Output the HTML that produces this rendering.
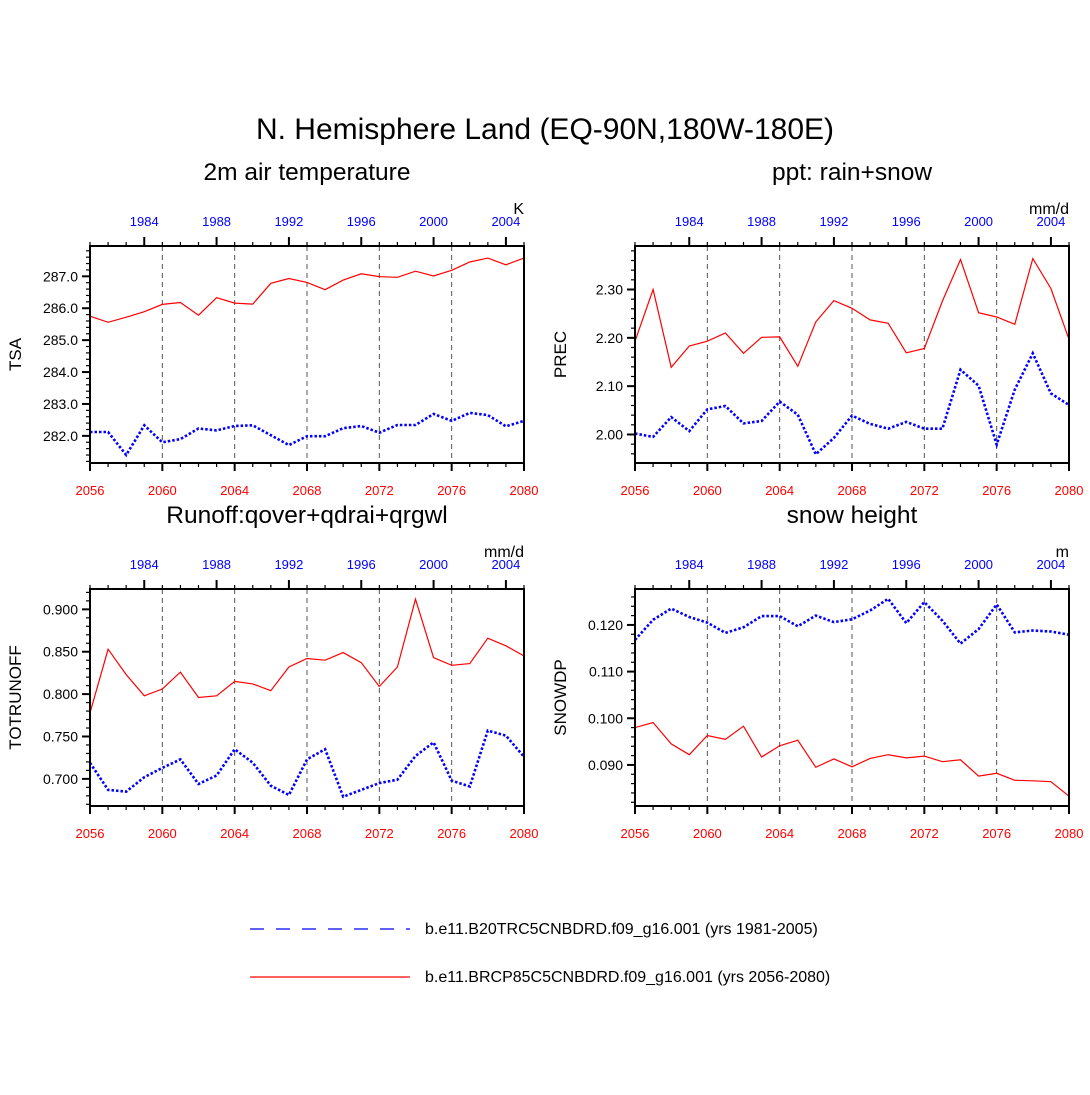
<!DOCTYPE html>
<html><head><meta charset="utf-8"><style>
body{margin:0;background:#fff}
svg text{font-family:"Liberation Sans",sans-serif}
</style></head><body>
<svg id="c" width="1090" height="1090" viewBox="0 0 1090 1090" xmlns="http://www.w3.org/2000/svg">
<rect width="1090" height="1090" fill="#fff"/>
<text x="545" y="139" font-size="30" text-anchor="middle">N. Hemisphere Land (EQ-90N,180W-180E)</text>
<g>
<line x1="250" y1="929" x2="410" y2="929" stroke="#00f" stroke-width="1.2" stroke-dasharray="14,12"/>
<text x="425" y="934" font-size="16">b.e11.B20TRC5CNBDRD.f09_g16.001 (yrs 1981-2005)</text>
<line x1="250" y1="977" x2="410" y2="977" stroke="#f00" stroke-width="1.2"/>
<text x="425" y="982" font-size="16">b.e11.BRCP85C5CNBDRD.f09_g16.001 (yrs 2056-2080)</text>
</g>
</svg>
<script>
const years = [2056,2057,2058,2059,2060,2061,2062,2063,2064,2065,2066,2067,2068,2069,2070,2071,2072,2073,2074,2075,2076,2077,2078,2079,2080];
const topLabels = ["1984","1988","1992","1996","2000","2004"];
const bottomLabels = ["2056","2060","2064","2068","2072","2076","2080"];
const tsaRcp = [285.75,285.56,285.72,285.89,286.12,286.18,285.78,286.33,286.16,286.13,286.78,286.93,286.81,286.58,286.88,287.08,286.99,286.97,287.16,287.01,287.19,287.45,287.57,287.36,287.57];
const tsaHist = [282.12,282.12,281.40,282.33,281.80,281.90,282.23,282.17,282.31,282.33,282.02,281.71,281.99,281.99,282.24,282.31,282.10,282.34,282.34,282.69,282.47,282.72,282.65,282.30,282.47];
const tsaTicks = ["282.0","283.0","284.0","285.0","286.0","287.0"];
const precRcp = [2.193,2.300,2.139,2.183,2.193,2.210,2.168,2.201,2.202,2.141,2.233,2.277,2.261,2.237,2.230,2.169,2.178,2.276,2.362,2.252,2.243,2.228,2.364,2.302,2.197];
const precHist = [2.002,1.995,2.036,2.007,2.052,2.059,2.023,2.028,2.068,2.041,1.959,1.993,2.039,2.022,2.012,2.026,2.012,2.012,2.134,2.101,1.979,2.093,2.168,2.085,2.061];
const precTicks = ["2.00","2.10","2.20","2.30"];
const runRcp = [0.778,0.853,0.823,0.798,0.806,0.826,0.796,0.798,0.815,0.812,0.804,0.832,0.842,0.840,0.849,0.837,0.809,0.832,0.912,0.843,0.834,0.836,0.866,0.857,0.845];
const runHist = [0.719,0.687,0.685,0.702,0.713,0.723,0.694,0.704,0.735,0.719,0.692,0.681,0.723,0.735,0.679,0.687,0.695,0.699,0.727,0.743,0.698,0.691,0.757,0.751,0.726];
const runTicks = ["0.700","0.750","0.800","0.850","0.900"];
const snowHist = [0.1168,0.1211,0.1235,0.1217,0.1205,0.1183,0.1195,0.1219,0.1219,0.1197,0.1220,0.1206,0.1212,0.1231,0.1256,0.1204,0.1249,0.1209,0.1160,0.1191,0.1244,0.1184,0.1188,0.1186,0.1179];
const snowRcp = [0.0980,0.0991,0.0945,0.0922,0.0963,0.0955,0.0983,0.0917,0.0941,0.0953,0.0895,0.0913,0.0896,0.0914,0.0922,0.0915,0.0919,0.0907,0.0911,0.0876,0.0882,0.0867,0.0866,0.0864,0.0833];
const snowTicks = ["0.090","0.100","0.110","0.120"];

const svg = document.getElementById('c');
const NS = 'http://www.w3.org/2000/svg';
function mk(tag, attrs, parent){const e=document.createElementNS(NS,tag);for(const k in attrs)e.setAttribute(k,attrs[k]);(parent||svg).appendChild(e);return e;}

function panel(cfg){
  const g = mk('g',{});
  
  
  const L=cfg.x0,R=cfg.x0+434,T=cfg.y0,B=cfg.y0+217;
  const xs = i => L + (R-L)*(years[i]-years[0])/(years[years.length-1]-years[0]);
  const xy = yr => L + (R-L)*(yr-years[0])/(years[years.length-1]-years[0]);
  const ys = v => B - (B-T)*(v-cfg.ymin)/(cfg.ymax-cfg.ymin);
  const t = mk('text',{x:(L+R)/2,y:T-66,'font-size':24.5,'text-anchor':'middle'},g); t.textContent=cfg.title;
  
  
  const u = mk('text',{x:R,y:T-32,'font-size':16,'text-anchor':'end'},g); u.textContent=cfg.units;
  
  
  const yt = mk('text',{x:0,y:0,'font-size':17,'text-anchor':'middle',transform:`translate(${L-69},${(T+B)/2}) rotate(-90)`},g); yt.textContent=cfg.ylabel;
  
  
  for(let yr=2060; yr<=2076; yr+=4){
    const l=mk('line',{x1:xy(yr),x2:xy(yr),y1:T,y2:B,stroke:'#555','stroke-width':1,'stroke-dasharray':'5,4'},g);
    
    
  }
  years.forEach((yr,i)=>{
    const major = (yr-2056)%4===0;
    const majTop = (yr-2056)%4===3;
    mk('line',{x1:xs(i),x2:xs(i),y1:B,y2:B+(major?8:4),stroke:'#000','stroke-width':major?2:1.2},g);
    mk('line',{x1:xs(i),x2:xs(i),y1:T,y2:T-(majTop?9:4),stroke:'#000','stroke-width':majTop?2:1.2},g);
  });
  bottomLabels.forEach(s=>{
    const e=mk('text',{x:xy(+s),y:B+32,'font-size':13,'text-anchor':'middle',fill:'#f00'},g); e.textContent=s;
    
    
  });
  topLabels.forEach(s=>{
    const e=mk('text',{x:xy(+s+75),y:T-20,'font-size':13,'text-anchor':'middle',fill:'#00f'},g); e.textContent=s;
    
    
  });
  const minor = cfg.minor;
  const start = Math.ceil(cfg.ymin/minor-1e-6), end = Math.floor(cfg.ymax/minor+1e-6);
  for(let k=start;k<=end;k++){
    const v=k*minor, y=ys(v);
    const isMaj = cfg.ticks.some(s=>Math.abs(+s-v)<minor/10);
    mk('line',{x1:L,x2:L-(isMaj?8:4),y1:y,y2:y,stroke:'#000','stroke-width':isMaj?2:1.2},g);
  }
  cfg.ticks.forEach(s=>{
    const e=mk('text',{x:L-12,y:ys(+s)+5,'font-size':14,'text-anchor':'end'},g); e.textContent=s;
    
    
  });
  const pr = cfg.rcp.map((v,i)=>xs(i).toFixed(1)+','+ys(v).toFixed(1)).join(' ');
  const ph = cfg.hist.map((v,i)=>xs(i).toFixed(1)+','+ys(v).toFixed(1)).join(' ');
  const lr = mk('polyline',{points:pr,fill:'none',stroke:'#f00','stroke-width':1.2},g);
  
  
  const lh = mk('polyline',{points:ph,fill:'none',stroke:'#00f','stroke-width':2.6,'stroke-dasharray':'2.5,2'},g);
  
  
  const f = mk('rect',{x:L,y:T,width:R-L,height:B-T,fill:'none',stroke:'#000','stroke-width':2},g);
  
  
}
panel({name:'panel-tsa',x0:90,y0:246,title:'2m air temperature',units:'K',ylabel:'TSA',ymin:281.15,ymax:287.95,minor:0.2,ticks:tsaTicks,rcp:tsaRcp,hist:tsaHist});
panel({name:'panel-prec',x0:635,y0:246,title:'ppt: rain+snow',units:'mm/d',ylabel:'PREC',ymin:1.941,ymax:2.39,minor:0.02,ticks:precTicks,rcp:precRcp,hist:precHist});
panel({name:'panel-runoff',x0:90,y0:589,title:'Runoff:qover+qdrai+qrgwl',units:'mm/d',ylabel:'TOTRUNOFF',ymin:0.668,ymax:0.924,minor:0.01,ticks:runTicks,rcp:runRcp,hist:runHist});
panel({name:'panel-snow',x0:635,y0:589,title:'snow height',units:'m',ylabel:'SNOWDP',ymin:0.0812,ymax:0.1277,minor:0.002,ticks:snowTicks,rcp:snowRcp,hist:snowHist});
</script>
</body></html>
